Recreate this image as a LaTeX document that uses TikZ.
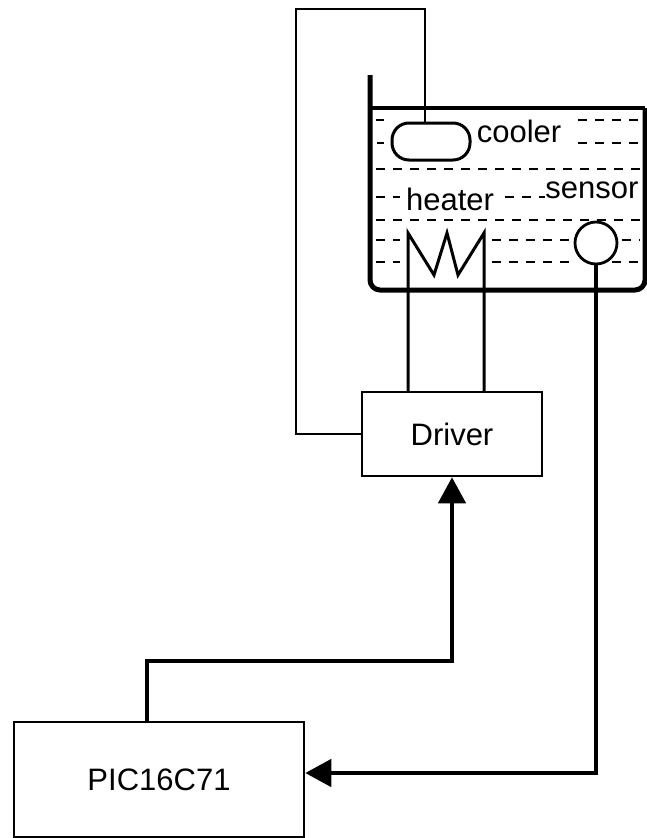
\documentclass[tikz,border=0pt]{standalone}
\usepackage{fontspec}
\setmainfont{Liberation Sans}
\usetikzlibrary{arrows.meta}
\begin{document}
\begin{tikzpicture}[x=1pt,y=-1pt,
  wire/.style={line width=2.5pt},
  bus/.style={line width=4.5pt, -{Triangle[length=26pt,width=27pt]}},
  tankwall/.style={line width=5pt},
  water/.style={line width=2.8pt, dash pattern=on 9pt off 8pt},
  lbl/.style={font=\fontsize{31}{36}\selectfont, inner sep=0pt, anchor=base},
  box/.style={draw, line width=2.5pt, inner sep=0pt, font=\fontsize{31}{36}\selectfont}]
\useasboundingbox (0,0) rectangle (646,838);

% tank
\draw[tankwall, rounded corners=10pt] (370,75) -- (370,290) -- (645,290) -- (645,108);
\draw[line width=3.5pt] (370,108) -- (645,108);

% water (dashed lines)
\draw[water] (376,120) -- (384,120);
\draw[water] (578,120) -- (640,120);
\draw[water] (377,143) -- (384,143);
\draw[water] (578,143) -- (640,143);
\draw[water] (376,169) -- (640,169);
\draw[water] (376,197) -- (400,197);
\draw[water] (505,197) -- (545,197);
\draw[water] (376,220) -- (640,220);
\draw[water] (376,240) -- (400,240);
\draw[water] (492,240) -- (570,240);
\draw[water] (622,240) -- (640,240);
\draw[water] (376,262) -- (400,262);
\draw[water] (492,262) -- (572,262);
\draw[water] (612,262) -- (640,262);

% parts in the tank
\node[draw, line width=3pt, rounded corners=17pt, minimum width=78pt, minimum height=37pt, inner sep=0pt] (cooler) at (431,141.5) {};
\node[draw, circle, line width=2.8pt, minimum size=42pt, inner sep=0pt] (sensor) at (596,243) {};

% labels
\node[lbl] (lcooler) at (519,142) {cooler};
\node[lbl] (lheater) at (450,210) {heater};
\node[lbl] (lsensor) at (592,198) {sensor};

% boxes
\node[box, minimum width=180pt, minimum height=84pt] (driver) at (452,434) {Driver};
\node[box, minimum width=290pt, minimum height=115pt] (pic) at (159,779.5) {PIC16C71};

% cooler loop
\coordinate (ctop) at (425,9);
\coordinate (cleft) at (296,9);
\draw[wire] ([xshift=-6pt]cooler.north) -- (ctop) -- (cleft) |- (driver.west);

% heater
\coordinate (hl) at (408,233);
\coordinate (hr) at (484,233);
\draw[wire, line width=3pt, line join=miter] (hl |- driver.north) -- (hl) -- (434,275) -- (447,233) -- (458,275) -- (hr) -- (hr |- driver.north);

% sensor to PIC
\draw[bus] (sensor.south) |- ([yshift=6.5pt]pic.east);

% PIC to driver
\coordinate (bend) at (147,661);
\draw[bus] (pic.north -| bend) -- (bend) -| (driver.south);
\end{tikzpicture}
\end{document}
